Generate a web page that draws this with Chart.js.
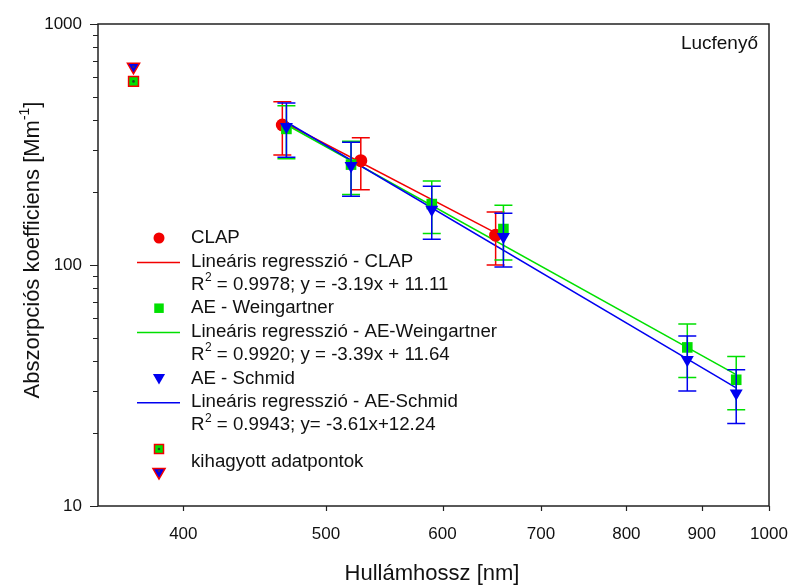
<!DOCTYPE html>
<html lang="hu">
<head>
<meta charset="utf-8">
<title>Lucfenyő</title>
<script src="https://cdn.jsdelivr.net/npm/chart.js@4.4.1/dist/chart.umd.min.js"></script>
<style>
    html, body { margin: 0; padding: 0; background: #fff; }
    #wrap { width: 792px; height: 585px; }
</style>
</head>
<body>
<div id="wrap"><canvas id="chart" width="792" height="585"></canvas></div>
<script>
// CLAP
const clapX = [467, 528, 652];
const clapY = [381, 271, 133];
const clapErr = [95, 66, 33];

// aethalometer, Weingartner and Schmid corrections
const aeX = [470, 520, 590, 660, 880, 950];
const weingartnerY = [367, 261, 179, 141, 45.5, 33.4];
const weingartnerErr = [91, 65, 44, 36, 11.4, 8.3];
const schmidY = [375, 258, 170, 131, 40.4, 29.4];
const schmidErr = [95, 65, 42, 33, 10.4, 7.4];

// kihagyott adatpontok (370 nm)
const omittedX = [370];
const omittedWeingartnerY = [578];
const omittedSchmidY = [664];

// regression lines, end points
const clapFitX = [467, 652];
const clapFitY = [394, 136];
const weingartnerFitX = [470, 950];
const weingartnerFitY = [382, 35.1];
const schmidFitX = [470, 950];
const schmidFitY = [392, 30.9];

const xTicks = [400, 500, 600, 700, 800, 900, 1000];
const yTicks = [10, 20, 30, 40, 50, 60, 70, 80, 90, 100, 200, 300, 400, 500, 600, 700, 800, 900, 1000];
const yLabels = [10, 100, 1000];

const RED = "#f20000";
const GREEN = "#00e000";
const BLUE = "#0000f0";
const FONT = "'Liberation Sans', Arial, sans-serif";

function toPoints(xs, ys) {
    return xs.map((x, i) => ({ x: x, y: ys[i] }));
}

const legendRows = [
    { kind: "circle", color: RED, text: "CLAP" },
    { kind: "line", color: RED, text: "Lineáris regresszió - CLAP" },
    { kind: "r2", text: " = 0.9978; y = -3.19x + 11.11" },
    { kind: "square", color: GREEN, text: "AE - Weingartner" },
    { kind: "line", color: GREEN, text: "Lineáris regresszió - AE-Weingartner" },
    { kind: "r2", text: " = 0.9920; y = -3.39x + 11.64" },
    { kind: "triangle", color: BLUE, text: "AE - Schmid" },
    { kind: "line", color: BLUE, text: "Lineáris regresszió - AE-Schmid" },
    { kind: "r2", text: " = 0.9943; y= -3.61x+12.24" }
];

function drawSquare(ctx, x, y, side, fill, stroke) {
    ctx.fillStyle = fill;
    ctx.fillRect(x - side / 2, y - side / 2, side, side);
    if (stroke) {
        ctx.strokeStyle = stroke;
        ctx.lineWidth = 1.5;
        ctx.strokeRect(x - side / 2, y - side / 2, side, side);
    }
}

function drawTriangleDown(ctx, x, y, r, fill, stroke) {
    ctx.beginPath();
    ctx.moveTo(x - r * 0.866, y - r / 2);
    ctx.lineTo(x + r * 0.866, y - r / 2);
    ctx.lineTo(x, y + r);
    ctx.closePath();
    ctx.fillStyle = fill;
    ctx.fill();
    if (stroke) {
        ctx.strokeStyle = stroke;
        ctx.lineWidth = 1.5;
        ctx.stroke();
    }
}

function drawDot(ctx, x, y, color) {
    ctx.beginPath();
    ctx.arc(x, y, 1.3, 0, Math.PI * 2);
    ctx.fillStyle = color;
    ctx.fill();
}

// error bars drawn just under each dataset's own markers
const errorBars = {
    id: "errorBars",
    beforeDatasetDraw(chart, args) {
        const ds = chart.data.datasets[args.index];
        if (!ds.errors) return;
        const ctx = chart.ctx;
        const yScale = chart.scales.y;
        ctx.save();
        ctx.strokeStyle = ds.borderColor;
        ctx.lineWidth = 1.5;
        args.meta.data.forEach((pt, i) => {
            const v = ds.data[i].y;
            const e = ds.errors[i];
            const top = yScale.getPixelForValue(v + e);
            const bottom = yScale.getPixelForValue(v - e);
            ctx.beginPath();
            ctx.moveTo(pt.x, top);
            ctx.lineTo(pt.x, bottom);
            ctx.moveTo(pt.x - 9, top);
            ctx.lineTo(pt.x + 9, top);
            ctx.moveTo(pt.x - 9, bottom);
            ctx.lineTo(pt.x + 9, bottom);
            ctx.stroke();
        });
        ctx.restore();
    }
};

// frame, tick marks, axis titles, panel label and legend
const decorations = {
    id: "decorations",
    afterDraw(chart) {
        const ctx = chart.ctx;
        const area = chart.chartArea;
        const xs = chart.scales.x;
        const ys = chart.scales.y;
        ctx.save();

        ctx.strokeStyle = "#222";
        ctx.lineWidth = 1.5;
        ctx.strokeRect(area.left, area.top, area.right - area.left, area.bottom - area.top);

        ctx.beginPath();
        yTicks.forEach(v => {
            const py = Math.round(ys.getPixelForValue(v)) + 0.5;
            const len = yLabels.includes(v) ? 8 : 5;
            ctx.moveTo(area.left - len, py);
            ctx.lineTo(area.left, py);
        });
        xTicks.forEach(v => {
            const px = Math.round(xs.getPixelForValue(v)) + 0.5;
            ctx.moveTo(px, area.bottom);
            ctx.lineTo(px, area.bottom + 5);
        });
        ctx.lineWidth = 1.2;
        ctx.stroke();

        ctx.fillStyle = "#111";
        ctx.textBaseline = "middle";

        // x title
        ctx.font = "22px " + FONT;
        ctx.textAlign = "center";
        ctx.fillText("Hullámhossz [nm]", 432, 574);

        // y title with superscript
        const main = "Abszorpciós koefficiens [Mm";
        const sup = "-1";
        const tail = "]";
        ctx.font = "22px " + FONT;
        const wMain = ctx.measureText(main).width;
        const wTail = ctx.measureText(tail).width;
        ctx.font = "14px " + FONT;
        const wSup = ctx.measureText(sup).width;
        const total = wMain + wSup + wTail;
        ctx.translate(33, 250);
        ctx.rotate(-Math.PI / 2);
        ctx.textAlign = "left";
        ctx.font = "22px " + FONT;
        ctx.fillText(main, -total / 2, 0);
        ctx.font = "14px " + FONT;
        ctx.fillText(sup, -total / 2 + wMain, -8);
        ctx.font = "22px " + FONT;
        ctx.fillText(tail, -total / 2 + wMain + wSup, 0);
        ctx.setTransform(1, 0, 0, 1, 0, 0);

        // panel label
        ctx.font = "19px " + FONT;
        ctx.textAlign = "right";
        ctx.fillText("Lucfenyő", 758, 44);

        // legend
        const textX = 191;
        const markX = 159;
        ctx.textAlign = "left";
        legendRows.forEach((row, i) => {
            const y = 238 + i * 23.4;
            if (row.kind === "circle") {
                ctx.beginPath();
                ctx.arc(markX, y, 5.5, 0, Math.PI * 2);
                ctx.fillStyle = row.color;
                ctx.fill();
            } else if (row.kind === "square") {
                drawSquare(ctx, markX, y, 9.5, row.color);
            } else if (row.kind === "triangle") {
                drawTriangleDown(ctx, markX, y - 1, 7, row.color);
            } else if (row.kind === "line") {
                ctx.beginPath();
                ctx.moveTo(137, y + 1);
                ctx.lineTo(180, y + 1);
                ctx.strokeStyle = row.color;
                ctx.lineWidth = 1.5;
                ctx.stroke();
            }
            ctx.fillStyle = "#111";
            if (row.kind === "r2") {
                ctx.font = "18.7px " + FONT;
                ctx.fillText("R", textX, y);
                const wr = ctx.measureText("R").width;
                ctx.font = "12px " + FONT;
                ctx.fillText("2", textX + wr + 0.5, y - 7);
                const w2 = ctx.measureText("2").width;
                ctx.font = "18.7px " + FONT;
                ctx.fillText(row.text, textX + wr + w2 + 0.5, y);
            } else {
                ctx.font = "18.7px " + FONT;
                ctx.fillText(row.text, textX, y);
            }
        });
        drawSquare(ctx, markX, 449, 9, GREEN, RED);
        drawDot(ctx, markX, 449, "#224422");
        drawTriangleDown(ctx, markX, 472, 7, BLUE, RED);
        drawDot(ctx, markX, 471, "#552255");
        ctx.fillStyle = "#111";
        ctx.font = "18.7px " + FONT;
        ctx.fillText("kihagyott adatpontok", textX, 462);

        ctx.restore();
    }
};

function buildChart() {
    const ctx = document.getElementById("chart").getContext("2d");
    return new Chart(ctx, {
        type: "scatter",
        data: {
            datasets: [
                {
                    label: "CLAP fit", data: toPoints(clapFitX, clapFitY), showLine: true,
                    borderColor: RED, borderWidth: 1.5, pointRadius: 0, order: 9
                },
                {
                    label: "Weingartner fit", data: toPoints(weingartnerFitX, weingartnerFitY), showLine: true,
                    borderColor: GREEN, borderWidth: 1.5, pointRadius: 0, order: 8
                },
                {
                    label: "Schmid fit", data: toPoints(schmidFitX, schmidFitY), showLine: true,
                    borderColor: BLUE, borderWidth: 1.5, pointRadius: 0, order: 7
                },
                {
                    label: "CLAP", data: toPoints(clapX, clapY), errors: clapErr,
                    backgroundColor: RED, borderColor: RED, borderWidth: 0,
                    pointStyle: "circle", pointRadius: 6.5, order: 6
                },
                {
                    label: "AE - Weingartner", data: toPoints(aeX, weingartnerY), errors: weingartnerErr,
                    backgroundColor: GREEN, borderColor: GREEN, borderWidth: 0,
                    pointStyle: "rect", pointRadius: 7.5, order: 5
                },
                {
                    label: "AE - Schmid", data: toPoints(aeX, schmidY), errors: schmidErr,
                    backgroundColor: BLUE, borderColor: BLUE, borderWidth: 0,
                    pointStyle: "triangle", rotation: 180, pointRadius: 7.5, order: 4
                },
                {
                    label: "kihagyott W", data: toPoints(omittedX, omittedWeingartnerY),
                    backgroundColor: GREEN, borderColor: RED, borderWidth: 1.5,
                    pointStyle: "rect", pointRadius: 7, order: 3
                },
                {
                    label: "kihagyott S", data: toPoints(omittedX, omittedSchmidY),
                    backgroundColor: BLUE, borderColor: RED, borderWidth: 1.5,
                    pointStyle: "triangle", rotation: 180, pointRadius: 7, order: 2
                },
                {
                    label: "dot W", data: toPoints(omittedX, omittedWeingartnerY),
                    backgroundColor: "#224422", borderWidth: 0, pointRadius: 1.3, order: 1
                },
                {
                    label: "dot S", data: toPoints(omittedX, omittedSchmidY),
                    backgroundColor: "#552255", borderWidth: 0, pointRadius: 1.3, order: 0
                }
            ]
        },
        options: {
            responsive: false,
            animation: false,
            events: [],
            layout: { padding: { top: 24, right: 23, left: 0, bottom: 0 } },
            plugins: {
                legend: { display: false },
                tooltip: { enabled: false }
            },
            scales: {
                x: {
                    type: "logarithmic",
                    min: 350,
                    max: 1000,
                    grid: { display: false, drawTicks: false },
                    border: { display: false },
                    afterBuildTicks: scale => { scale.ticks = xTicks.map(v => ({ value: v })); },
                    afterFit: scale => {
                        scale.height = 79;
                        scale.paddingLeft = 0;
                        scale.paddingRight = 0;
                    },
                    ticks: {
                        autoSkip: false,
                        maxRotation: 0,
                        padding: 18,
                        color: "#111",
                        font: { family: FONT, size: 17 },
                        callback: value => String(value)
                    }
                },
                y: {
                    type: "logarithmic",
                    min: 10,
                    max: 1000,
                    grid: { display: false, drawTicks: false },
                    border: { display: false },
                    afterBuildTicks: scale => { scale.ticks = yTicks.map(v => ({ value: v })); },
                    afterFit: scale => {
                        scale.width = 98;
                        scale.paddingTop = 0;
                        scale.paddingBottom = 0;
                    },
                    ticks: {
                        autoSkip: false,
                        padding: 16,
                        color: "#111",
                        font: { family: FONT, size: 17 },
                        callback: value => yLabels.includes(value) ? String(value) : ""
                    }
                }
            }
        },
        plugins: [errorBars, decorations]
    });
}

document.addEventListener("DOMContentLoaded", buildChart);
</script>
</body>
</html>
